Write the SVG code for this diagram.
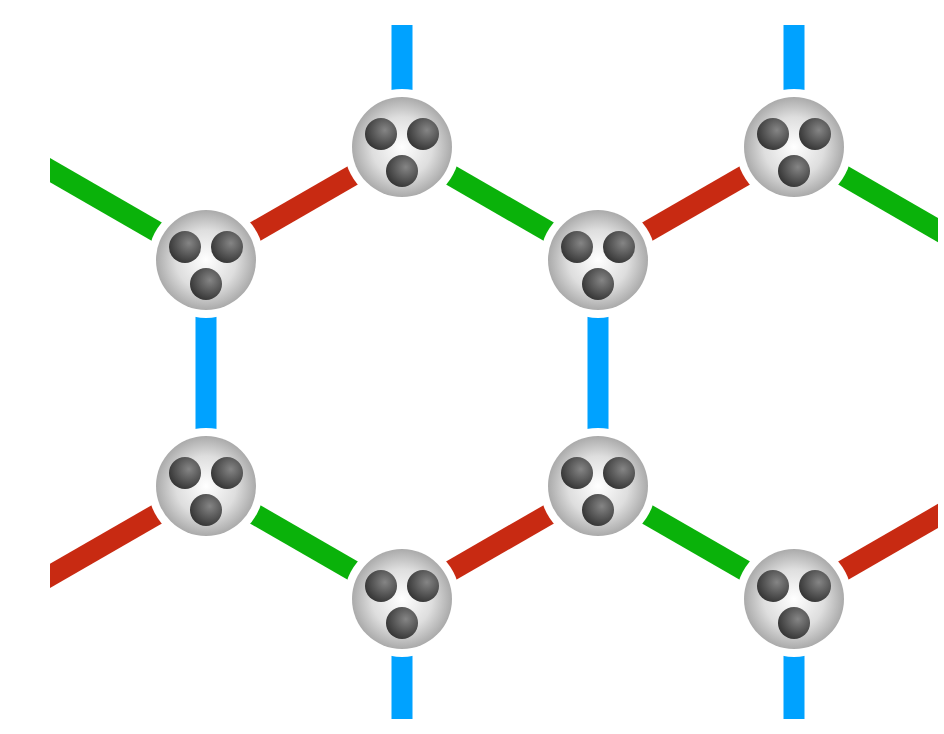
<svg xmlns="http://www.w3.org/2000/svg" width="944" height="734" viewBox="0 0 944 734">
  <defs>
    <radialGradient id="shell" cx="50%" cy="50%" r="50%">
      <stop offset="0" stop-color="#ffffff"/>
      <stop offset="0.6" stop-color="#dedede"/>
      <stop offset="1" stop-color="#aaaaaa"/>
    </radialGradient>
    <radialGradient id="ball" cx="62%" cy="38%" r="65%" fx="62%" fy="38%">
      <stop offset="0" stop-color="#858585"/>
      <stop offset="1" stop-color="#363636"/>
    </radialGradient>
    <clipPath id="frame">
      <rect x="50" y="25" width="888" height="694"/>
    </clipPath>
    <g id="atom">
      <circle r="58" fill="#ffffff"/>
      <circle r="50" fill="url(#shell)"/>
      <circle cx="-21" cy="-13" r="16" fill="url(#ball)"/>
      <circle cx="21" cy="-13" r="16" fill="url(#ball)"/>
      <circle cx="0" cy="24" r="16" fill="url(#ball)"/>
    </g>
  </defs>
  <style>
    .bond { stroke-width: 21; fill: none; }
    .b { stroke: #00a2ff; }
    .r { stroke: #c82a12; }
    .g { stroke: #0ab20a; }
  </style>
  <rect width="944" height="734" fill="#ffffff"/>
  <g id="connectors" clip-path="url(#frame)">
    <!-- vertical bonds -->
    <line class="bond b" x1="402" y1="147" x2="402" y2="-79"/>
    <line class="bond b" x1="794" y1="147" x2="794" y2="-79"/>
    <line class="bond b" x1="206" y1="260" x2="206" y2="486"/>
    <line class="bond b" x1="598" y1="260" x2="598" y2="486"/>
    <line class="bond b" x1="402" y1="599" x2="402" y2="825"/>
    <line class="bond b" x1="794" y1="599" x2="794" y2="825"/>
    <!-- rising bonds -->
    <line class="bond r" x1="206" y1="260" x2="402" y2="147"/>
    <line class="bond r" x1="598" y1="260" x2="794" y2="147"/>
    <line class="bond r" x1="10" y1="599" x2="206" y2="486"/>
    <line class="bond r" x1="402" y1="599" x2="598" y2="486"/>
    <line class="bond r" x1="794" y1="599" x2="990" y2="486"/>
    <!-- falling bonds -->
    <line class="bond g" x1="10" y1="147" x2="206" y2="260"/>
    <line class="bond g" x1="402" y1="147" x2="598" y2="260"/>
    <line class="bond g" x1="794" y1="147" x2="990" y2="260"/>
    <line class="bond g" x1="206" y1="486" x2="402" y2="599"/>
    <line class="bond g" x1="598" y1="486" x2="794" y2="599"/>
  </g>
  <g id="n1"><use href="#atom" x="402" y="147"/></g>
  <g id="n2"><use href="#atom" x="794" y="147"/></g>
  <g id="n3"><use href="#atom" x="206" y="260"/></g>
  <g id="n4"><use href="#atom" x="598" y="260"/></g>
  <g id="n5"><use href="#atom" x="206" y="486"/></g>
  <g id="n6"><use href="#atom" x="598" y="486"/></g>
  <g id="n7"><use href="#atom" x="402" y="599"/></g>
  <g id="n8"><use href="#atom" x="794" y="599"/></g>
</svg>
